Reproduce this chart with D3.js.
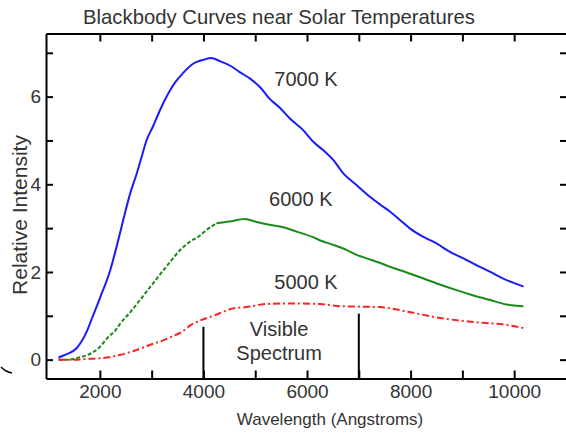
<!DOCTYPE html>
<html>
<head>
<meta charset="utf-8">
<script src="https://cdn.jsdelivr.net/npm/d3@7"></script>
<style>
  body { margin: 0; background: #fff; }
  svg text { font-family: "Liberation Sans", Arial, sans-serif; fill: #333; }
</style>
</head>
<body>
<svg id="chart" width="566" height="434"></svg>
<script>
// wavelength (Angstroms), relative intensity
const curve7000 = [
  [1200, 0.05], [1350, 0.12], [1550, 0.26], [1750, 0.65], [1850, 0.95], [2000, 1.4],
  [2200, 2.04], [2350, 2.7], [2450, 3.18], [2600, 3.85], [2700, 4.2], [2800, 4.6],
  [2900, 5.0], [3030, 5.33], [3160, 5.69], [3320, 6.07], [3450, 6.32], [3600, 6.53],
  [3800, 6.75], [4000, 6.84], [4150, 6.88], [4320, 6.81], [4510, 6.71], [4700, 6.56],
  [4900, 6.41], [5090, 6.22], [5280, 5.95], [5480, 5.74], [5670, 5.5], [5930, 5.23],
  [6120, 4.97], [6310, 4.78], [6510, 4.55], [6700, 4.25], [6960, 3.98], [7220, 3.71],
  [7410, 3.54], [7600, 3.38], [7800, 3.18], [7990, 2.99], [8250, 2.8], [8500, 2.65],
  [8760, 2.46], [9020, 2.31], [9280, 2.15], [9540, 2.0], [9790, 1.85], [9990, 1.75],
  [10180, 1.67]
];
const curve6000 = [
  [1200, 0], [1400, 0], [1600, 0.05], [1750, 0.1], [2000, 0.29], [2150, 0.5],
  [2300, 0.67], [2400, 0.83], [2600, 1.1], [2800, 1.4], [3000, 1.7], [3200, 2.0],
  [3350, 2.22], [3550, 2.5], [3750, 2.7], [3900, 2.8], [4050, 2.95], [4250, 3.11],
  [4500, 3.15], [4800, 3.21], [5030, 3.14], [5300, 3.07], [5500, 3.03], [5800, 2.92],
  [6100, 2.8], [6300, 2.7], [6450, 2.64], [6770, 2.5], [6960, 2.39], [7150, 2.31],
  [7400, 2.21], [7600, 2.12], [7900, 2.0], [8250, 1.85], [8550, 1.72], [8900, 1.58],
  [9200, 1.47], [9540, 1.36], [9850, 1.26], [10180, 1.22]
];
const curve5000 = [
  [1200, 0], [1500, 0], [1800, 0.02], [2000, 0.03], [2200, 0.06], [2400, 0.11],
  [2600, 0.18], [2800, 0.26], [3000, 0.35], [3220, 0.44], [3400, 0.53], [3550, 0.61],
  [3800, 0.82], [3950, 0.9], [4190, 1.0], [4400, 1.1], [4570, 1.17], [4830, 1.2],
  [5220, 1.27], [5500, 1.28], [5800, 1.28], [6250, 1.27], [6640, 1.22], [7000, 1.21],
  [7410, 1.2], [7600, 1.17], [8000, 1.08], [8570, 0.95], [9210, 0.86], [9860, 0.79],
  [10180, 0.72]
];

const seriesNames = ["7000 K", "6000 K", "5000 K"];
const seriesColors = ["#1a1aff", "#1a8a1a", "#ff2020"];
const labelPoints = [[5980, 6.4], [5880, 3.66], [5980, 1.77]]; // where the temperature labels sit
const visibleBounds = [4000, 7000];
const visibleTops = [0.75, 1.05];

const xTicks = d3.range(2000, 10001, 1000);
const xLabels = [2000, 4000, 6000, 8000, 10000];
const yTicks = d3.range(0, 8, 1);
const yLabels = [0, 2, 4, 6];

const svg = d3.select("#chart");
const plotLeft = 46, plotRight = 567, plotTop = 33.5, plotBottom = 378.5;

const x = d3.scaleLinear().domain([960, 11020]).range([plotLeft, plotRight]);
const y = d3.scaleLinear().domain([-0.43, 7.44]).range([plotBottom, plotTop]);

// frame + ticks
const axisStyle = g => {
  g.select(".domain").attr("stroke", "#000").attr("stroke-width", 2);
  g.selectAll(".tick line").attr("stroke", "#000").attr("stroke-width", 2);
  g.selectAll(".tick text").attr("font-size", 19).attr("fill", "#333")
    .attr("font-family", "Liberation Sans, Arial, sans-serif");
};

svg.append("g")
  .attr("transform", `translate(0,${plotBottom})`)
  .call(d3.axisBottom(x).tickValues(xTicks).tickSizeInner(-8).tickSizeOuter(0).tickPadding(6)
    .tickFormat(d => xLabels.includes(d) ? d : ""))
  .call(axisStyle);

svg.append("g")
  .attr("transform", `translate(0,${plotTop})`)
  .call(d3.axisTop(x).tickValues(xTicks).tickSizeInner(-8).tickSizeOuter(0).tickFormat(""))
  .call(axisStyle);

svg.append("g")
  .attr("transform", `translate(${plotLeft},0)`)
  .call(d3.axisLeft(y).tickValues(yTicks).tickSizeInner(-7).tickSizeOuter(0).tickPadding(5)
    .tickFormat(d => yLabels.includes(d) ? d : ""))
  .call(axisStyle);

svg.append("g")
  .attr("transform", `translate(${plotRight},0)`)
  .call(d3.axisRight(y).tickValues(yTicks).tickSizeInner(-7).tickSizeOuter(0).tickFormat(""))
  .call(axisStyle);

// curves
const line = d3.line().x(d => x(d[0])).y(d => y(d[1])).curve(d3.curveMonotoneX);

// 7000 K solid blue
svg.append("path").datum(curve7000)
  .attr("fill", "none").attr("stroke", seriesColors[0]).attr("stroke-width", 2)
  .attr("d", line);

// 6000 K: dotted on the rise, solid after the peak
svg.append("path").datum(curve6000.filter(d => d[0] <= 4250))
  .attr("fill", "none").attr("stroke", seriesColors[1]).attr("stroke-width", 2)
  .attr("stroke-dasharray", "4,2")
  .attr("d", line);
svg.append("path").datum(curve6000.filter(d => d[0] >= 4250))
  .attr("fill", "none").attr("stroke", seriesColors[1]).attr("stroke-width", 2)
  .attr("d", line);

// 5000 K dash-dot red
svg.append("path").datum(curve5000)
  .attr("fill", "none").attr("stroke", seriesColors[2]).attr("stroke-width", 2)
  .attr("stroke-dasharray", "7,3,2,3")
  .attr("d", line);

svg.selectAll(".series-label")
  .data(seriesNames)
  .enter()
  .append("text")
  .attr("class", "series-label")
  .attr("x", (d, i) => x(labelPoints[i][0]))
  .attr("y", (d, i) => y(labelPoints[i][1]))
  .attr("text-anchor", "middle")
  .attr("dominant-baseline", "central")
  .attr("font-size", 20)
  .text(d => d);

// visible spectrum markers
svg.selectAll(".vis")
  .data(visibleBounds)
  .enter()
  .append("line")
  .attr("x1", d => x(d))
  .attr("x2", d => x(d))
  .attr("y1", (d, i) => y(visibleTops[i]))
  .attr("y2", plotBottom)
  .attr("stroke", "#000")
  .attr("stroke-width", 2);

const visMid = x(d3.mean(visibleBounds)) - 2;
svg.append("text").attr("x", visMid).attr("y", 336).attr("text-anchor", "middle")
  .attr("font-size", 20).text("Visible");
svg.append("text").attr("x", visMid).attr("y", 360).attr("text-anchor", "middle")
  .attr("font-size", 20).text("Spectrum");

// titles
svg.append("text").attr("x", 279).attr("y", 24).attr("text-anchor", "middle")
  .attr("font-size", 20.3).text("Blackbody Curves near Solar Temperatures");

svg.append("text").attr("x", 330).attr("y", 425).attr("text-anchor", "middle")
  .attr("font-size", 17).text("Wavelength (Angstroms)");

svg.append("text")
  .attr("transform", "translate(27,215) rotate(-90)")
  .attr("text-anchor", "middle")
  .attr("font-size", 21)
  .text("Relative Intensity");

// small stray stroke at lower left of the original
svg.append("path")
  .attr("d", "M1,367 Q6,372 12,373")
  .attr("fill", "none")
  .attr("stroke", "#000")
  .attr("stroke-width", 1.5);
</script>
</body>
</html>
